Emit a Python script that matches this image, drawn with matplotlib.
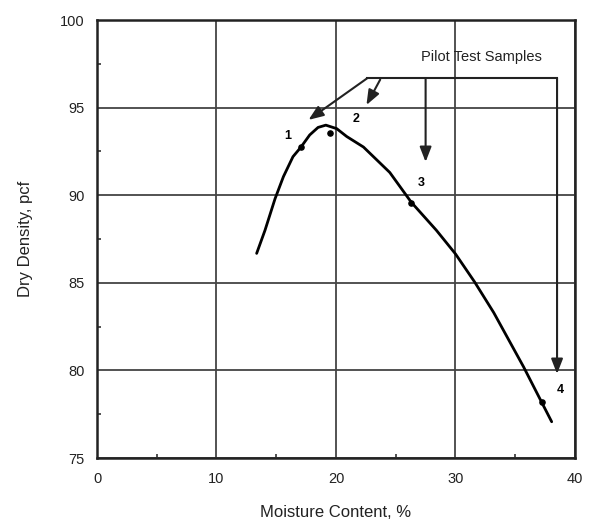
import matplotlib.pyplot as plt
from matplotlib.ticker import MultipleLocator

plt.rcParams["font.family"] = ["Liberation Sans", "DejaVu Sans"]

# compaction curve
curve_x = [13.36, 14.06, 14.9, 15.6, 16.4, 17.05, 17.8, 18.5, 19.15, 20.06, 20.9,
           22.3, 24.5, 26.3, 28.4, 30.0, 31.6, 33.2, 35.7, 37.2, 38.05]
curve_y = [86.68, 88.0, 89.8, 91.06, 92.2, 92.73, 93.44, 93.87, 94.0, 93.8, 93.35,
           92.75, 91.3, 89.6, 88.0, 86.65, 85.05, 83.3, 80.2, 78.2, 77.07]

# pilot test samples
sample_ids = ["1", "2", "3", "4"]
sample_x = [17.1, 19.5, 26.3, 37.2]
sample_y = [92.77, 93.57, 89.54, 78.18]
label_x = [16.0, 21.7, 27.1, 38.75]
label_y = [93.4, 94.35, 90.7, 78.9]

# bracket for the "Pilot Test Samples" callout
bracket_y = 96.67
bracket_left = 22.6
bracket_right = 38.5
arrow_from = [(22.6, 96.67), (23.7, 96.6), (27.5, 96.67), (38.5, 96.67)]
arrow_to = [(17.7, 94.3), (22.55, 95.15), (27.5, 91.9), (38.5, 79.8)]

fig = plt.figure(figsize=(6.01, 5.27), dpi=100)
ax = fig.add_axes([0.1614, 0.1309, 0.7953, 0.8311])

ax.set_xlim(0, 40)
ax.set_ylim(75, 100)
ax.xaxis.set_major_locator(MultipleLocator(10))
ax.yaxis.set_major_locator(MultipleLocator(5))
ax.xaxis.set_minor_locator(MultipleLocator(5))
ax.yaxis.set_minor_locator(MultipleLocator(2.5))
ax.tick_params(which="major", length=0, labelsize=10.5, colors="#222222")
ax.tick_params(axis="y", which="major", pad=9)
ax.tick_params(axis="x", which="major", pad=10)
ax.tick_params(which="minor", direction="in", length=3, width=1.2, color="#333333")
ax.grid(True, which="major", color="#444444", linewidth=1.3)
for sp in ax.spines.values():
    sp.set_linewidth(1.8)
    sp.set_color("#222222")

ax.plot(curve_x, curve_y, color="black", linewidth=2.0, zorder=3,
        solid_joinstyle="round", solid_capstyle="round")
ax.scatter(sample_x, sample_y, s=14, color="black", zorder=4)
for lbl, lx, ly in zip(sample_ids, label_x, label_y):
    ax.text(lx, ly, lbl, fontsize=9, fontweight="bold", ha="center", va="center")

ax.plot([bracket_left, bracket_right], [bracket_y, bracket_y], color="#222222", linewidth=1.5)
for (x0, y0), (x1, y1) in zip(arrow_from, arrow_to):
    ax.annotate("", xy=(x1, y1), xytext=(x0, y0),
                arrowprops=dict(arrowstyle="-|>,head_length=0.9,head_width=0.35",
                                color="#222222", lw=1.5, shrinkA=0, shrinkB=0))
ax.text(32.2, 97.9, "Pilot Test Samples", fontsize=10.5, ha="center", va="center",
        color="#222222")

ax.set_xlabel("Moisture Content, %", fontsize=12, labelpad=14, color="#222222")
ax.set_ylabel("Dry Density, pcf", fontsize=12, labelpad=19, color="#222222")

fig.savefig("out.png", dpi=100)
